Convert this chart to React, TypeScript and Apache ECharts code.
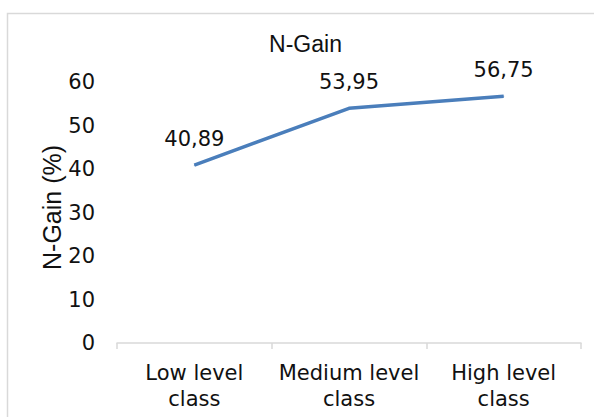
import React, { useEffect, useRef } from "react";
import * as echarts from "echarts";

const categories = ["Low level\nclass", "Medium level\nclass", "High level\nclass"];
const nGainValues = [40.89, 53.95, 56.75];
const valueLabels = ["40,89", "53,95", "56,75"];
const chartTitle = "N-Gain";
const yAxisTitle = "N-Gain (%)";

export default function App() {
  const ref = useRef<HTMLDivElement>(null);
  useEffect(() => {
    if (!ref.current) return;
    const chart = echarts.init(ref.current, undefined, { renderer: "svg" });
    const txt = "#111111";
    chart.setOption({
      animation: false,
      backgroundColor: "#ffffff",
      grid: { left: 117, right: 13, top: 82, bottom: 74, containLabel: false },
      graphic: [
        {
          type: "rect",
          shape: { x: 7.5, y: 13.5, width: 620, height: 440 },
          style: { fill: "none", stroke: "#d9d9d9", lineWidth: 1.5 },
          silent: true,
          z: -1,
        },
        {
          type: "text",
          x: 305.5,
          y: 43.5,
          style: {
            text: chartTitle,
            font: "23px 'Liberation Sans'",
            fill: txt,
            textAlign: "center",
            textVerticalAlign: "middle",
          },
        },
        {
          type: "text",
          x: 52,
          y: 207.5,
          rotation: Math.PI / 2,
          style: {
            text: yAxisTitle,
            font: "25px 'Liberation Sans'",
            fill: txt,
            textAlign: "center",
            textVerticalAlign: "middle",
          },
        },
      ],
      xAxis: {
        type: "category",
        data: categories,
        boundaryGap: true,
        axisLine: { show: true, lineStyle: { color: "#d9d9d9", width: 1.5 } },
        axisTick: { show: true, length: 6, lineStyle: { color: "#d9d9d9", width: 1.5 } },
        axisLabel: {
          margin: 17,
          fontFamily: "DejaVu Sans",
          fontSize: 21,
          lineHeight: 26,
          color: txt,
          interval: 0,
        },
        splitLine: { show: false },
      },
      yAxis: {
        type: "value",
        min: 0,
        max: 60,
        interval: 10,
        axisLine: { show: false },
        axisTick: { show: false },
        splitLine: { show: false },
        axisLabel: {
          margin: 22,
          fontFamily: "DejaVu Sans",
          fontSize: 21,
          color: txt,
        },
      },
      series: [
        {
          type: "line",
          data: nGainValues,
          showSymbol: true,
          symbol: "circle",
          symbolSize: 1,
          itemStyle: { color: "#4a7ebb" },
          lineStyle: { color: "#4a7ebb", width: 3.5 },
          label: {
            show: true,
            position: "top",
            distance: 15,
            fontFamily: "DejaVu Sans",
            fontSize: 21,
            color: txt,
            formatter: (p: any) => valueLabels[p.dataIndex],
          },
        },
      ],
    });
    return () => chart.dispose();
  }, []);
  return (
    <div
      ref={ref}
      style={{ position: "fixed", left: 0, top: 0, width: 594, height: 417 }}
    />
  );
}
